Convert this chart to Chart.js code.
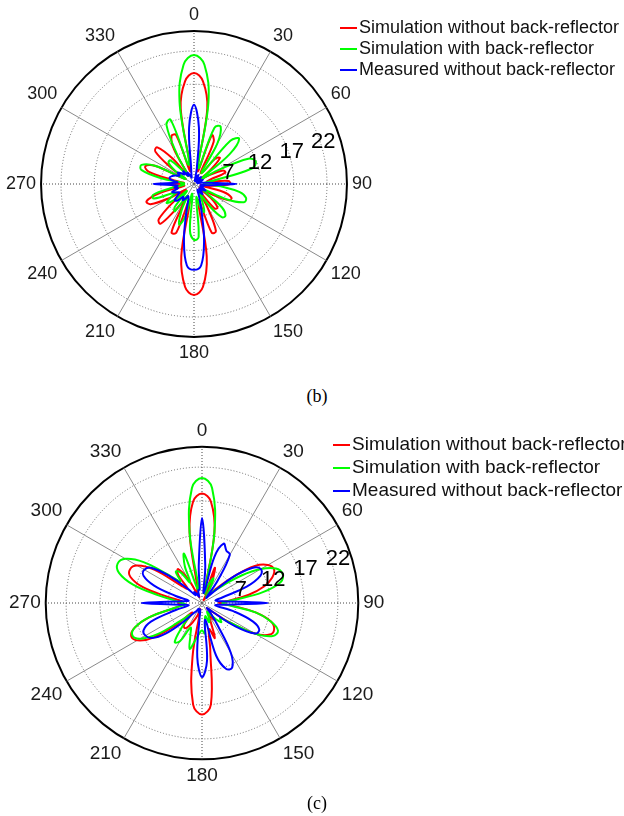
<!DOCTYPE html>
<html>
<head>
<meta charset="utf-8">
<script src="https://cdn.jsdelivr.net/npm/chart.js"></script>
<style>
  body { margin: 0; width: 624px; height: 816px; overflow: hidden; background: #fff; position: relative;
         font-family: "Liberation Sans", Arial, sans-serif; }
  canvas { position: absolute; }
  .legend { position: absolute; white-space: nowrap; color: #111; }
  .legend .key { display: inline-block; width: 17px; height: 2px; vertical-align: middle; margin-right: 2px; }
  .caption { position: absolute; width: 60px; text-align: center; line-height: 20px;
             font: 18px "Liberation Serif", "Times New Roman", serif; }
</style>
</head>
<body>
<canvas id="chartB" width="376" height="376" style="left:1px; top:-3px"></canvas>
<canvas id="chartC" width="386" height="386" style="left:4px; top:411px"></canvas>

<div class="legend" style="left:340px; top:17px; font-size:18px; line-height:21px">
  <div><span class="key" style="background:#ff0000"></span>Simulation without back-reflector</div>
  <div><span class="key" style="background:#00ff00"></span>Simulation with back-reflector</div>
  <div><span class="key" style="background:#0000ff"></span>Measured without back-reflector</div>
</div>
<div class="legend" style="left:333px; top:432px; font-size:19px; line-height:23px">
  <div><span class="key" style="background:#ff0000"></span>Simulation without back-reflector</div>
  <div><span class="key" style="background:#00ff00"></span>Simulation with back-reflector</div>
  <div><span class="key" style="background:#0000ff"></span>Measured without back-reflector</div>
</div>
<div class="caption" style="left:287px; top:386px">(b)</div>
<div class="caption" style="left:287px; top:793px">(c)</div>

<script>
// angle samples every 5 degrees, clockwise from the top
const angles = [];
for (let a = 0; a < 360; a += 5) angles.push(a);

const angleLabels = ['0', '30', '60', '90', '120', '150', '180', '210', '240', '270', '300', '330'];
const ringTicks = [7, 12, 17, 22];
const rMin = 2, rMax = 25;

const seriesNames = ['Simulation without back-reflector', 'Simulation with back-reflector', 'Measured without back-reflector'];
const seriesColors = ['#ff0000', '#00ff00', '#0000ff'];

// (b)
const redB = [
  18.7, 17.5, 13.5, 4, 9.8, 9, 4, 4, 7, 7.5, 5, 3,
  4.5, 6.8, 7, 4.5, 4, 7.2, 7.4, 5, 3, 6.5, 8, 7.8,
  5, 3, 5.5, 7, 6.8, 3.5, 6, 9.8, 9.8, 4.5, 13, 17.5,
  18.7, 17.5, 13, 4.5, 9.8, 10, 5, 6.5, 9.8, 9.5, 5.5, 3.5,
  6, 9.2, 9.6, 7.5, 3.5, 5, 5.5, 3.5, 5, 9, 9.8, 8.5,
  3.5, 6, 9.6, 9.8, 7, 3.5, 8, 10, 9.8, 4, 13.5, 17.5
];
const greenB = [
  21.4, 20, 14.5, 4.5, 11, 11.5, 9, 4, 10.5, 11.6, 9, 3.5,
  6, 11, 11.9, 11, 5, 3.5, 4, 6, 9, 10.1, 10, 7.5,
  3.5, 4, 7.5, 8.7, 8.5, 6, 3.5, 5, 6.5, 5.5, 4, 10,
  10.4, 9, 3.5, 7, 8.5, 6.5, 4, 7, 6.5, 3.5, 5.5, 7,
  6, 5, 8.4, 8.4, 5.5, 3.5, 4, 3.5, 7, 10.2, 10.4, 8.5,
  3.5, 5.5, 7, 7, 4.5, 3.5, 7, 11.8, 12.3, 5, 14.5, 20
];
const blueB = [
  13.9, 10.5, 4.5, 2.5, 3, 3.5, 3, 2.5, 3, 3.5, 3, 2.5,
  3, 3.5, 3, 2.5, 3, 4, 8.4, 4, 3, 3.5, 3, 3.5,
  4, 3.5, 3, 3.5, 4, 3.5, 3, 3.5, 4.5, 6.5, 10.7, 14.3,
  14.9, 14.3, 10.7, 6.5, 4.5, 4, 4.5, 5, 4.5, 5.5, 5.8, 5,
  4.5, 5, 5.5, 4.5, 5, 4.5, 8.1, 4.5, 5.5, 5.8, 5.5, 5,
  4.5, 5, 4.5, 4, 4.5, 3.5, 4, 3.5, 3, 3.5, 4.5, 10.5
];

// (c)
const redC = [
  18.1, 17, 12.5, 3.5, 7.5, 5.5, 2.5, 3, 4, 5, 8, 11.5,
  13.2, 13.7, 13, 11.5, 9, 6, 4.5, 6.5, 10, 12.5, 13.3, 13,
  11, 7, 4, 3, 4, 5, 4, 5, 7.5, 6, 9, 17,
  18.4, 17, 10, 3, 4, 5, 6, 6.5, 6, 4, 7, 11,
  13, 13.5, 12.5, 10, 6, 5, 5.5, 5, 7, 11, 13.2, 13.7,
  13, 10.5, 6, 5, 7.5, 8.1, 6, 3, 4, 5, 12.5, 17
];
const greenC = [
  20.4, 19, 12.5, 3.5, 5, 6, 4, 3, 4, 4.5, 6, 9,
  12, 14, 14.6, 14, 11, 6.5, 5, 6, 10, 12.5, 13.9, 13.5,
  11, 7, 5.5, 6, 5, 4, 3.5, 4.5, 5, 4, 4.5, 6.5,
  6, 6.5, 7.5, 9, 7, 6, 8.5, 9, 6.5, 4.5, 6, 10,
  12.5, 13.3, 12.5, 10, 6, 4.5, 5, 6, 8.5, 12.5, 15, 15.7,
  15, 12.5, 8.5, 6.5, 8, 7.5, 5.5, 8, 9.7, 4, 12.5, 19
];
const blueC = [
  14.5, 7.5, 3.5, 9, 11.3, 10.5, 10.2, 6, 3, 4, 8, 11,
  12, 11.5, 9, 5, 4, 5, 11.7, 5, 4, 7, 10, 11.3,
  11, 8, 4, 3, 4, 6, 10.5, 12.5, 12.3, 10, 4.5, 10.5,
  12.9, 10, 4, 3, 3.5, 3, 3, 3.5, 4, 6, 9, 11,
  11.6, 11.5, 10, 6, 4, 5, 10.9, 5, 4, 6, 9.5, 11.5,
  11.8, 11, 8, 5, 3.5, 4, 3.5, 3, 3.5, 4, 4, 7.5
];

// radial tick numbers sit along a ray between 60 and 90 degrees
const ringLabels = {
  id: 'ringLabels',
  afterDatasetsDraw(chart, args, opts) {
    const r = chart.scales.r;
    const ctx = chart.ctx;
    const ang = (opts.angle - 90) * Math.PI / 180;
    ctx.save();
    ctx.font = '22px "Liberation Sans", Arial, sans-serif';
    ctx.fillStyle = '#000';
    ctx.textAlign = 'center';
    ctx.textBaseline = 'middle';
    ringTicks.forEach(v => {
      const d = r.getDistanceFromCenterForValue(v) + opts.shift;
      ctx.fillText(String(v), r.xCenter + d * Math.cos(ang), r.yCenter + d * Math.sin(ang));
    });
    ctx.restore();
  }
};

function polarChart(id, values, labelSize, tickShift) {
  return new Chart(document.getElementById(id), {
    type: 'radar',
    data: {
      labels: angles.map(a => (a % 30 === 0 ? angleLabels[a / 30] : '')),
      datasets: seriesNames.map((name, i) => ({
        label: name,
        data: values[i],
        borderColor: seriesColors[i],
        borderWidth: 2,
        pointRadius: 0,
        fill: false,
        tension: 0.4,
        order: 3 - i
      }))
    },
    options: {
      responsive: false,
      animation: false,
      events: [],
      layout: { padding: 0 },
      plugins: {
        legend: { display: false },
        tooltip: { enabled: false },
        ringLabels: { angle: 72, shift: tickShift }
      },
      scales: {
        r: {
          min: rMin,
          max: rMax,
          afterBuildTicks: scale => {
            scale.ticks = [rMin].concat(ringTicks, [rMax]).map(v => ({ value: v }));
          },
          ticks: { display: false },
          grid: {
            circular: true,
            color: c => (c.tick && c.tick.value === rMax ? '#000' : '#666'),
            lineWidth: c => (c.tick && c.tick.value === rMax ? 2 : 1)
          },
          border: {
            dash: c => (c.tick && c.tick.value === rMax ? [] : [1, 2])
          },
          angleLines: {
            color: c => (angles[c.index] % 90 === 0 ? '#444' : '#8a8a8a'),
            lineWidth: c => (angles[c.index] % 30 === 0 ? 1 : 0),
            borderDash: c => (angles[c.index] % 90 === 0 ? [1, 2] : [])
          },
          pointLabels: {
            padding: 5,
            color: '#1a1a1a',
            font: { family: '"Liberation Sans", Arial, sans-serif', size: labelSize, lineHeight: 1.2 }
          }
        }
      }
    },
    plugins: [ringLabels]
  });
}

polarChart('chartB', [redB, greenB, blueB], 18, 3);
polarChart('chartC', [redC, greenC, blueC], 19, 7);
</script>
</body>
</html>
